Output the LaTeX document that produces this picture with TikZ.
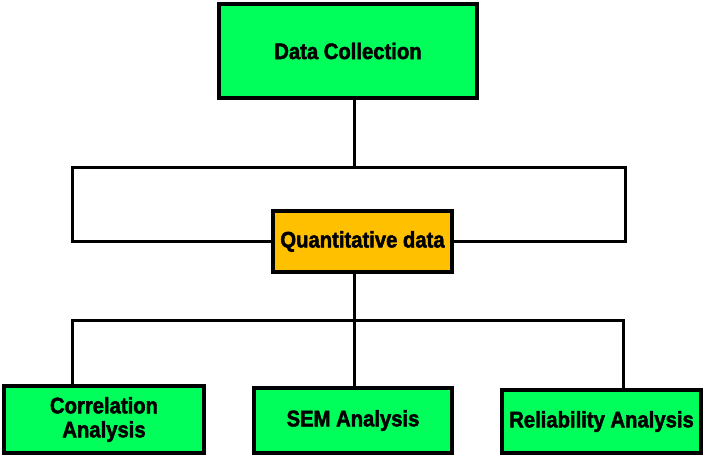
\documentclass[tikz,border=0pt]{standalone}
\usepackage{fontspec}
\setmainfont{Liberation Sans}
\newfontfamily\boxfont{Liberation Sans Bold}[FakeStretch=0.9,FakeBold=2]
\usetikzlibrary{positioning,calc}
\definecolor{boxgreen}{RGB}{0,255,90}
\definecolor{boxorange}{RGB}{255,192,0}

\begin{document}
\begin{tikzpicture}
  [x=1pt, y=-1pt,
  phase/.style={
    rectangle,
    draw,
    line width=3.5pt,
    fill=boxgreen,
    align=center,
    inner sep=0pt,
    font=\fontsize{22.5}{24}\boxfont
    },
  link/.style={line width=3pt}
  ]
  \useasboundingbox (0,0) rectangle (706,458);

  % blocchi
  \node [phase, minimum width=258pt, minimum height=94pt] (datacollection) at (348,51) {Data Collection};
  \node [phase, fill=boxorange, minimum width=179pt, minimum height=61pt] (quantitative) at (362.5,241.5) {Quantitative data};

  \node [phase, minimum width=200pt, minimum height=67pt] (correlation) at (104,419.5) {Correlation\\Analysis};
  \node [phase, minimum width=198pt, minimum height=65pt] (sem) at (353,420.5) {SEM Analysis};
  \node [phase, minimum width=199pt, minimum height=63pt] (reliability) at (601.5,421.5) {Reliability Analysis};

  % punti di snodo
  \coordinate (bracket) at (354,167);
  \coordinate (bracketleft) at (72,167);
  \coordinate (bracketright) at (625,167);
  \coordinate (split) at (354,320);
  \coordinate (splitleft) at (72,320);
  \coordinate (splitright) at (623,320);

  \draw[link] (datacollection.south -| bracket) -- (bracket);
  \draw[link] (quantitative.west) -| (bracketleft) -- (bracketright) |- (quantitative.east);

  \draw[link] (quantitative.south -| split) -- (split);
  \draw[link] (correlation.north -| splitleft) -- (splitleft) -- (splitright) -- (reliability.north -| splitright);
  \draw[link] (split) -- (sem.north -| split);
\end{tikzpicture}
\end{document}
